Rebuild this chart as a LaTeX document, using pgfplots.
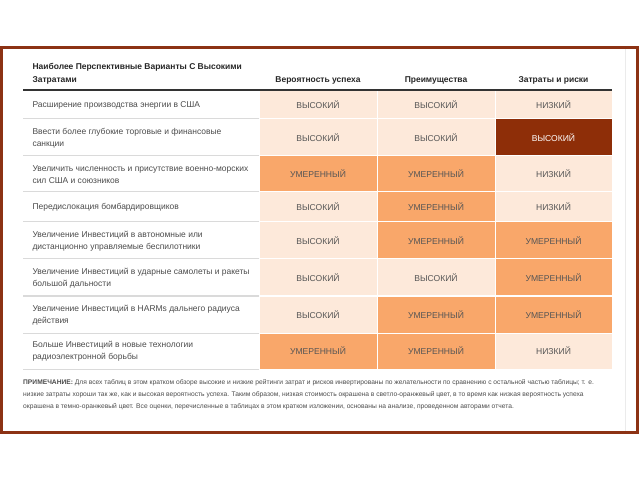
\documentclass[border=0pt]{standalone}
\usepackage{fontspec}
\setmainfont{Liberation Sans}
\usepackage{pgfplots}
\pgfplotsset{compat=1.18}

\definecolor{framec}{RGB}{140,50,20}
\definecolor{lowc}{RGB}{253,233,218}
\definecolor{midc}{RGB}{249,167,106}
\definecolor{highc}{RGB}{142,46,8}
\definecolor{celltxt}{RGB}{85,85,85}
\definecolor{labtxt}{RGB}{75,75,75}
\definecolor{rulec}{RGB}{218,218,218}

\begin{document}
\begin{tikzpicture}
\begin{axis}[
    width=640bp, height=480bp, scale only axis,
    xmin=0, xmax=640, ymin=0, ymax=480, y dir=reverse,
    hide axis, clip=false, empty line=jump,
]
% low / high-is-good cells (light)
\addplot[fill=lowc, draw=white, line width=1bp] coordinates {
(259,90)(377,90)(377,119)(259,119)(259,90)

(377,90)(495,90)(495,119)(377,119)(377,90)

(495,90)(612,90)(612,119)(495,119)(495,90)

(259,119)(377,119)(377,156)(259,156)(259,119)

(377,119)(495,119)(495,156)(377,156)(377,119)

(495,156)(612,156)(612,192)(495,192)(495,156)

(259,192)(377,192)(377,222)(259,222)(259,192)

(495,192)(612,192)(612,222)(495,222)(495,192)

(259,222)(377,222)(377,259)(259,259)(259,222)

(259,259)(377,259)(377,296)(259,296)(259,259)

(377,259)(495,259)(495,296)(377,296)(377,259)

(259,296)(377,296)(377,333)(259,333)(259,296)

(495,333)(612,333)(612,369)(495,369)(495,333)
};
% moderate cells
\addplot[fill=midc, draw=white, line width=1bp] coordinates {
(259,156)(377,156)(377,192)(259,192)(259,156)

(377,156)(495,156)(495,192)(377,192)(377,156)

(377,192)(495,192)(495,222)(377,222)(377,192)

(377,222)(495,222)(495,259)(377,259)(377,222)

(495,222)(612,222)(612,259)(495,259)(495,222)

(495,259)(612,259)(612,296)(495,296)(495,259)

(377,296)(495,296)(495,333)(377,333)(377,296)

(495,296)(612,296)(612,333)(495,333)(495,296)

(259,333)(377,333)(377,369)(259,369)(259,333)

(377,333)(495,333)(495,369)(377,369)(377,333)
};
% high cost cell (dark)
\addplot[fill=highc, draw=white, line width=1bp] coordinates {
(495,119)(612,119)(612,156)(495,156)(495,119)
};

% row rules in the label column
\addplot[rulec, line width=1bp] coordinates {
(23,119)(259,119)

(23,156)(259,156)

(23,192)(259,192)

(23,222)(259,222)

(23,259)(259,259)

(23,296)(259,296)

(23,333)(259,333)

(23,369)(259,369)
};
% header rule
\addplot[black!80, line width=1.5bp] coordinates {(23,90)(612,90)};

% cell ratings
\addplot[draw=none, nodes near coords, point meta=explicit symbolic,
  every node near coord/.style={anchor=center, text=celltxt,
    font=\fontsize{8.6}{9}\selectfont}]
  table[meta=t] {
x y t
318 104.5 ВЫСОКИЙ
436 104.5 ВЫСОКИЙ
553.5 104.5 НИЗКИЙ
318 137.5 ВЫСОКИЙ
436 137.5 ВЫСОКИЙ
318 174 УМЕРЕННЫЙ
436 174 УМЕРЕННЫЙ
553.5 174 НИЗКИЙ
318 207 ВЫСОКИЙ
436 207 УМЕРЕННЫЙ
553.5 207 НИЗКИЙ
318 240.5 ВЫСОКИЙ
436 240.5 УМЕРЕННЫЙ
553.5 240.5 УМЕРЕННЫЙ
318 277.5 ВЫСОКИЙ
436 277.5 ВЫСОКИЙ
553.5 277.5 УМЕРЕННЫЙ
318 314.5 ВЫСОКИЙ
436 314.5 УМЕРЕННЫЙ
553.5 314.5 УМЕРЕННЫЙ
318 351 УМЕРЕННЫЙ
436 351 УМЕРЕННЫЙ
553.5 351 НИЗКИЙ
};
\addplot[draw=none, nodes near coords, point meta=explicit symbolic,
  every node near coord/.style={anchor=center, text=white,
    font=\fontsize{8.6}{9}\selectfont}]
  table[meta=t] {
x y t
553.5 137.5 ВЫСОКИЙ
};

% headers
\node[anchor=west, align=left, text=black!85, font=\fontsize{8.5}{13}\selectfont\bfseries]
  at (axis cs:29,74) {Наиболее Перспективные Варианты С Высокими\\Затратами};
\node[text=black!85, font=\fontsize{8.5}{10}\selectfont\bfseries] at (axis cs:318,80) {Вероятность успеха};
\node[text=black!85, font=\fontsize{8.5}{10}\selectfont\bfseries] at (axis cs:436,80) {Преимущества};
\node[text=black!85, font=\fontsize{8.5}{10}\selectfont\bfseries] at (axis cs:553.5,80) {Затраты и риски};

% row labels
\begin{scope}[every node/.style={anchor=west, align=left, text=labtxt,
    font=\fontsize{8.5}{12.5}\selectfont}]
\node at (axis cs:29,105) {Расширение производства энергии в США};
\node at (axis cs:29,138) {Ввести более глубокие торговые и финансовые\\санкции};
\node at (axis cs:29,174.5) {Увеличить численность и присутствие военно-морских\\сил США и союзников};
\node at (axis cs:29,207.5) {Передислокация бомбардировщиков};
\node at (axis cs:29,241) {Увеличение Инвестиций в автономные или\\дистанционно управляемые беспилотники};
\node at (axis cs:29,278) {Увеличение Инвестиций в ударные самолеты и ракеты\\большой дальности};
\node at (axis cs:29,315) {Увеличение Инвестиций в HARMs дальнего радиуса\\действия};
\node at (axis cs:29,351.5) {Больше Инвестиций в новые технологии\\радиоэлектронной борьбы};
\end{scope}

% note
\begin{scope}[every node/.style={anchor=west, text=labtxt,
    font=\fontsize{6.7}{8}\selectfont, inner xsep=0pt}]
\node at (axis cs:23,383) {\textbf{ПРИМЕЧАНИЕ:} Для всех таблиц в этом кратком обзоре высокие и низкие рейтинги затрат и рисков инвертированы по желательности по сравнению с остальной частью таблицы; т. е.};
\node at (axis cs:23,395) {низкие затраты хороши так же, как и высокая вероятность успеха. Таким образом, низкая стоимость окрашена в светло-оранжевый цвет, в то время как низкая вероятность успеха};
\node at (axis cs:23,407) {окрашена в темно-оранжевый цвет. Все оценки, перечисленные в таблицах в этом кратком изложении, основаны на анализе, проведенном авторами отчета.};
\end{scope}

% frame
\draw[black!8, line width=0.8bp] (axis cs:625,49) -- (axis cs:625,432);
\draw[framec, line width=2.5bp] (axis cs:1.5,47.5) rectangle (axis cs:637.5,432.5);
\end{axis}
\path (current axis.south west) rectangle (current axis.north east);
\end{tikzpicture}
\end{document}
